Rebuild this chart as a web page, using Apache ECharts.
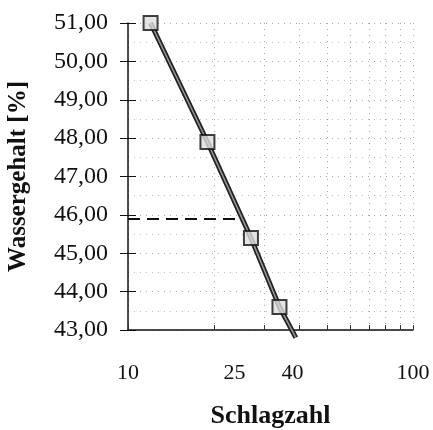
<!DOCTYPE html>
<html>
<head>
<meta charset="utf-8">
<script src="https://cdn.jsdelivr.net/npm/echarts@6/dist/echarts.min.js"></script>
<style>
html, body { margin: 0; padding: 0; background: #fff; }
#chart { width: 433px; height: 430px; }
</style>
</head>
<body>
<div id="chart"></div>
<script>
// Messpunkte
var schlagzahl = [12, 19, 27, 34];
var wassergehalt = [51.0, 47.9, 45.4, 43.6];
// Ausgleichsgerade (bis unter die Achse verlängert)
var geradeX = [12, 19, 27, 34, 38.8];
var geradeY = [51.0, 47.9, 45.4, 43.6, 42.8];
// Ablesung bei 25 Schlägen
var ablesungX = 25;
var ablesungY = 45.9;
var xLabels = [10, 25, 40, 100];
var xTicks = [10, 20, 30, 40, 50, 60, 70, 80, 90, 100];

var myChart = echarts.init(document.getElementById('chart'));
var serif = 'Liberation Serif';

function pairs(xs, ys) {
    return xs.map(function (x, i) { return [x, ys[i]]; });
}

var option = {
    animation: false,
    grid: { left: 128, right: 20, top: 23, bottom: 100, outerBoundsMode: 'none', containLabel: false },
    xAxis: {
        type: 'log',
        logBase: 10,
        min: 10,
        max: 100,
        name: 'Schlagzahl',
        nameLocation: 'middle',
        nameGap: 73,
        nameTextStyle: { fontFamily: serif, fontSize: 26, fontWeight: 'bold', color: '#111' },
        axisLine: { lineStyle: { color: '#111', width: 1.5 } },
        axisTick: { show: true, customValues: xTicks, length: 5, inside: true, lineStyle: { color: '#333' } },
        axisLabel: {
            customValues: xLabels,
            margin: 32,
            fontFamily: serif,
            fontSize: 22,
            color: '#111',
            formatter: function (v) {
                // 25 und 40 stehen etwas links der Marke
                if (v === 25 || v === 40) return '{s|' + v + '}';
                return String(v);
            },
            rich: { s: { fontFamily: serif, fontSize: 22, color: '#111', padding: [0, 14, 0, 0] } }
        },
        splitLine: { show: true, lineStyle: { color: '#aaa', type: [1, 5], width: 1 } },
        minorTick: { show: false }
    },
    yAxis: [{
        type: 'value',
        min: 43,
        max: 51,
        interval: 1,
        name: 'Wassergehalt [%]',
        nameLocation: 'middle',
        nameGap: 97,
        nameRotate: 90,
        nameTextStyle: { fontFamily: serif, fontSize: 25, fontWeight: 'bold', color: '#111' },
        axisLine: { show: true, lineStyle: { color: '#111', width: 1.5 } },
        axisTick: { show: true, length: 8, lineStyle: { color: '#111' } },
        axisLabel: {
            margin: 20,
            fontFamily: serif,
            fontSize: 24,
            color: '#111',
            formatter: function (v) { return v.toFixed(2).replace('.', ','); }
        },
        splitLine: { show: true, lineStyle: { color: '#aaa', type: [1, 5], width: 1 } },
        minorTick: { show: false, splitNumber: 2 },
        minorSplitLine: { show: true, lineStyle: { color: '#bbb', type: [1, 5], width: 1 } }
    }, {
        type: 'value',
        min: 43,
        max: 51,
        interval: 1,
        position: 'left',
        axisLine: { show: false },
        axisTick: { show: true, inside: true, length: 8, lineStyle: { color: '#111' } },
        axisLabel: { show: false },
        splitLine: { show: false }
    }],
    series: [{
        type: 'line',
        data: pairs(geradeX, geradeY),
        symbol: 'none',
        clip: false,
        lineStyle: { color: '#222', width: 5 },
        z: 3
    }, {
        type: 'line',
        data: pairs(geradeX, geradeY),
        symbol: 'none',
        clip: false,
        lineStyle: { color: '#999', width: 1.5 },
        z: 4,
        markLine: {
            silent: true,
            symbol: 'none',
            label: { show: false },
            lineStyle: { color: '#111', width: 2, type: [12, 7] },
            data: [
                [{ coord: [10, ablesungY] }, { coord: [ablesungX, ablesungY] }],
                [{ coord: [ablesungX, ablesungY] }, { coord: [ablesungX, 42.8] }]
            ]
        }
    }, {
        type: 'scatter',
        data: pairs(schlagzahl, wassergehalt),
        symbol: 'rect',
        symbolSize: 14,
        itemStyle: { color: '#ddd', borderColor: '#111', borderWidth: 2 },
        z: 5
    }]
};
myChart.setOption(option);
</script>
</body>
</html>
